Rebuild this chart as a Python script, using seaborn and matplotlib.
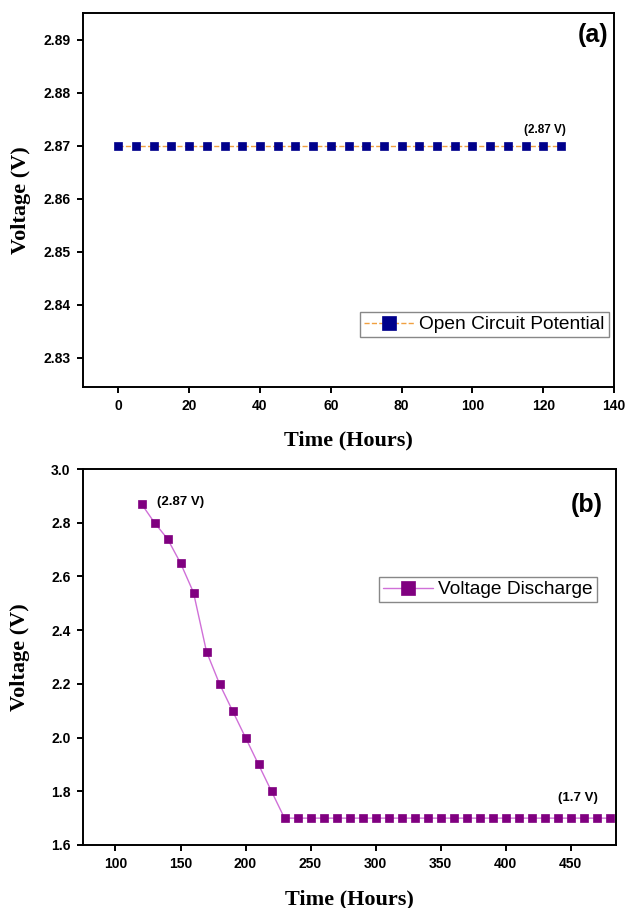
import matplotlib
matplotlib.use("Agg")
import matplotlib.pyplot as plt
import seaborn as sns

# panel (a): open circuit potential
ocp_time = [0, 5, 10, 15, 20, 25, 30, 35, 40, 45, 50, 55, 60, 65, 70, 75, 80, 85, 90,
            95, 100, 105, 110, 115, 120, 125]
ocp_volt = [2.87] * 26

# panel (b): voltage discharge
dis_time = [120, 130, 140, 150, 160, 170, 180, 190, 200, 210, 220,
            230, 240, 250, 260, 270, 280, 290, 300, 310, 320, 330, 340, 350, 360,
            370, 380, 390, 400, 410, 420, 430, 440, 450, 460, 470, 480]
dis_volt = [2.87, 2.80, 2.74, 2.65, 2.54, 2.32, 2.20, 2.10, 2.00, 1.90, 1.80,
            1.70, 1.70, 1.70, 1.70, 1.70, 1.70, 1.70, 1.70, 1.70, 1.70, 1.70, 1.70, 1.70, 1.70,
            1.70, 1.70, 1.70, 1.70, 1.70, 1.70, 1.70, 1.70, 1.70, 1.70, 1.70, 1.70]

sns.set_style("ticks")
plt.rcParams['font.family'] = ['Liberation Sans', 'DejaVu Sans']
plt.rcParams.update({'text.color': 'black', 'axes.labelcolor': 'black',
                     'xtick.color': 'black', 'ytick.color': 'black'})

fig = plt.figure(figsize=(6.27, 9.08), dpi=100)
ax1 = fig.add_axes([83 / 627, 1 - 387 / 908, 531 / 627, 374 / 908])
ax2 = fig.add_axes([83 / 627, 1 - 845 / 908, 533 / 627, 376 / 908])

sns.lineplot(x=ocp_time, y=ocp_volt, ax=ax1, color='#f0a040', linestyle='--', linewidth=1,
             marker='s', markersize=5.3, markerfacecolor='#00008b', markeredgecolor='#00008b',
             markeredgewidth=0.5, label='Open Circuit Potential')
sns.lineplot(x=dis_time, y=dis_volt, ax=ax2, color='#d070d8', linewidth=1,
             marker='s', markersize=5.3, markerfacecolor='#800080', markeredgecolor='#800080',
             markeredgewidth=0.5, label='Voltage Discharge')

ax1.set_xlim(-10, 140)
ax1.set_ylim(2.8245, 2.895)
ax1.set_xticks([0, 20, 40, 60, 80, 100, 120, 140])
ax1.set_yticks([2.83, 2.84, 2.85, 2.86, 2.87, 2.88, 2.89])
ax1.set_yticklabels(['2.83', '2.84', '2.85', '2.86', '2.87', '2.88', '2.89'])

ax2.set_xlim(75, 485)
ax2.set_ylim(1.6, 3.0)
ax2.set_xticks([100, 150, 200, 250, 300, 350, 400, 450])
ax2.set_yticks([1.6, 1.8, 2.0, 2.2, 2.4, 2.6, 2.8, 3.0])
ax2.set_yticklabels(['1.6', '1.8', '2.0', '2.2', '2.4', '2.6', '2.8', '3.0'])

for ax, ypad, xpad in ((ax1, 9, 12), (ax2, 15, 13)):
    for s in ax.spines.values():
        s.set_linewidth(1.4)
        s.set_color('black')
    ax.tick_params(direction='out', length=4, width=1.4, labelsize=10, pad=5)
    for lab in ax.get_xticklabels() + ax.get_yticklabels():
        lab.set_fontweight('bold')
    ax.set_xlabel('Time (Hours)', family='Liberation Serif', fontweight='bold', fontsize=16, labelpad=xpad)
    ax.set_ylabel('Voltage (V)', family='Liberation Serif', fontweight='bold', fontsize=16, labelpad=ypad)

leg_kw = dict(loc='upper left', fontsize=13.8, fancybox=False, edgecolor='#888888',
              framealpha=1, handlelength=2.6, markerscale=2, borderpad=0.2,
              handletextpad=0.3, borderaxespad=0)
ax1.legend(bbox_to_anchor=(277 / 531, 75 / 374), **leg_kw)
ax2.legend(bbox_to_anchor=(296 / 533, 268 / 376), **leg_kw)

ax1.text(0.99, 0.94, '(a)', transform=ax1.transAxes, ha='right', va='center',
         fontsize=18, fontweight='bold')
ax2.text(0.976, 0.905, '(b)', transform=ax2.transAxes, ha='right', va='center',
         fontsize=18, fontweight='bold')

ax1.annotate('(2.87 V)', xy=(ocp_time[-2], ocp_volt[-2]), xytext=(1.5, 11.5), textcoords='offset points',
             ha='center', va='center', fontsize=8.5, fontweight='bold')
ax2.annotate('(2.87 V)', xy=(dis_time[0], dis_volt[0]), xytext=(28, 1.4), textcoords='offset points',
             ha='center', va='center', fontsize=9.5, fontweight='bold')
ax2.annotate('(1.7 V)', xy=(dis_time[-3], dis_volt[-3]), xytext=(-4, 14.4), textcoords='offset points',
             ha='center', va='center', fontsize=9.5, fontweight='bold')

fig.savefig('out.png', dpi=100)
